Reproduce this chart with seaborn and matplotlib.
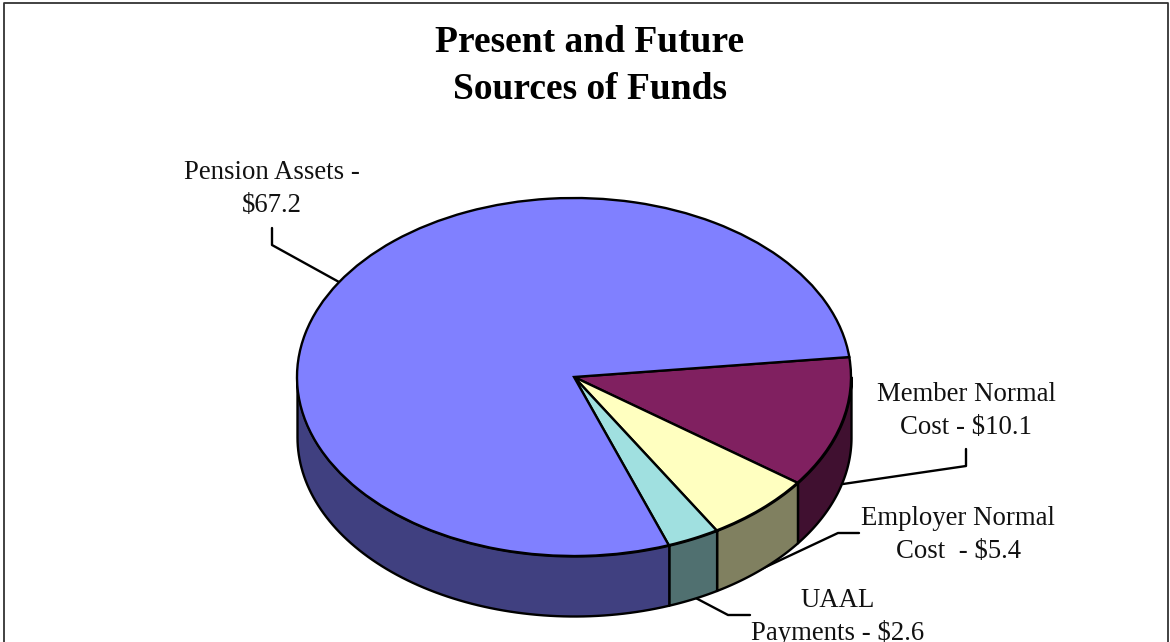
import numpy as np
import matplotlib
matplotlib.use('Agg')
import matplotlib.pyplot as plt
import seaborn as sns

sns.set_theme(style='white')
plt.rcParams['font.family'] = ['Liberation Serif', 'DejaVu Serif']

# chart data, $ amounts in pie order (clockwise from the right edge)
labels = ['Member Normal\nCost - $10.1', 'Employer Normal\nCost  - $5.4',
          'UAAL\nPayments - $2.6', 'Pension Assets -\n$67.2']
values = [10.1, 5.4, 2.6, 67.2]
top_colors = ['#802060', '#FFFFC0', '#A0E0E0', '#8080FF']
side_colors = ['#401030', '#808060', '#507070', '#404080']
title = 'Present and Future\nSources of Funds'

W, H = 1170, 642
CX, CY, RX, RY = 574, 377, 277, 179
DEPTH = 60 / RY
START = 6.4


def px(x, y):
    # picture pixels to data units
    return (x - CX) / RX, (CY - y) / RY


fig = plt.figure(figsize=(W / 100, H / 100), dpi=100, facecolor='white')
ax = fig.add_axes([0, 0, 1, 1])

# side wall first, only the lower half of the rim shows
fracs = np.array(values) / sum(values)
edges = START - 360 * np.concatenate([[0], np.cumsum(fracs)])
for a, b, col in zip(edges[:-1], edges[1:], side_colors):
    lo = max(b, -180)
    hi = min(a, 0)
    t = np.radians(np.linspace(lo, hi, 80))
    x = np.cos(t)
    y = np.sin(t)
    ax.fill_between(x, y, y - DEPTH, color=col, ec='black', lw=1.7, zorder=1)

ax.pie(values, colors=top_colors, startangle=START, counterclock=False,
       radius=1, wedgeprops=dict(ec='black', lw=1.7, zorder=3))
ax.set_aspect('auto')
x0, _ = px(0, 0)
x1, _ = px(W, 0)
_, y0 = px(0, H)
_, y1 = px(0, 0)
ax.set_xlim(x0, x1)
ax.set_ylim(y0, y1)
ax.axis('off')

# leader lines, they run behind the pie
leaders = [
    [(966, 449), (966, 466), (843, 484)],
    [(859, 533), (838, 533), (755, 572)],
    [(750, 615), (728, 615), (690, 595)],
    [(272, 228), (272, 245), (339, 282)],
]
for pts in leaders:
    xs, ys = zip(*[px(*p) for p in pts])
    ax.plot(xs, ys, color='black', lw=1.7, zorder=0, clip_on=False)

label_pos = [(966, 411), (958, 535), (838, 617), (272, 189)]
for txt, (lx, ly) in zip(labels, label_pos):
    x, y = px(lx, ly)
    ax.text(x, y, txt, ha='center', va='center', fontsize=19.3, color='#111111',
            linespacing=1.38, zorder=5)

x, y = px(590, 66)
ax.text(x, y, title, ha='center', va='center', fontsize=27, fontweight='bold',
        color='black', linespacing=1.42)

# outer frame
xs, ys = zip(*[px(*p) for p in [(4, 642), (4, 3), (1168, 3), (1168, 642)]])
ax.plot(xs, ys, color='#333333', lw=1.3, clip_on=False)

fig.savefig('out.png', dpi=100)
